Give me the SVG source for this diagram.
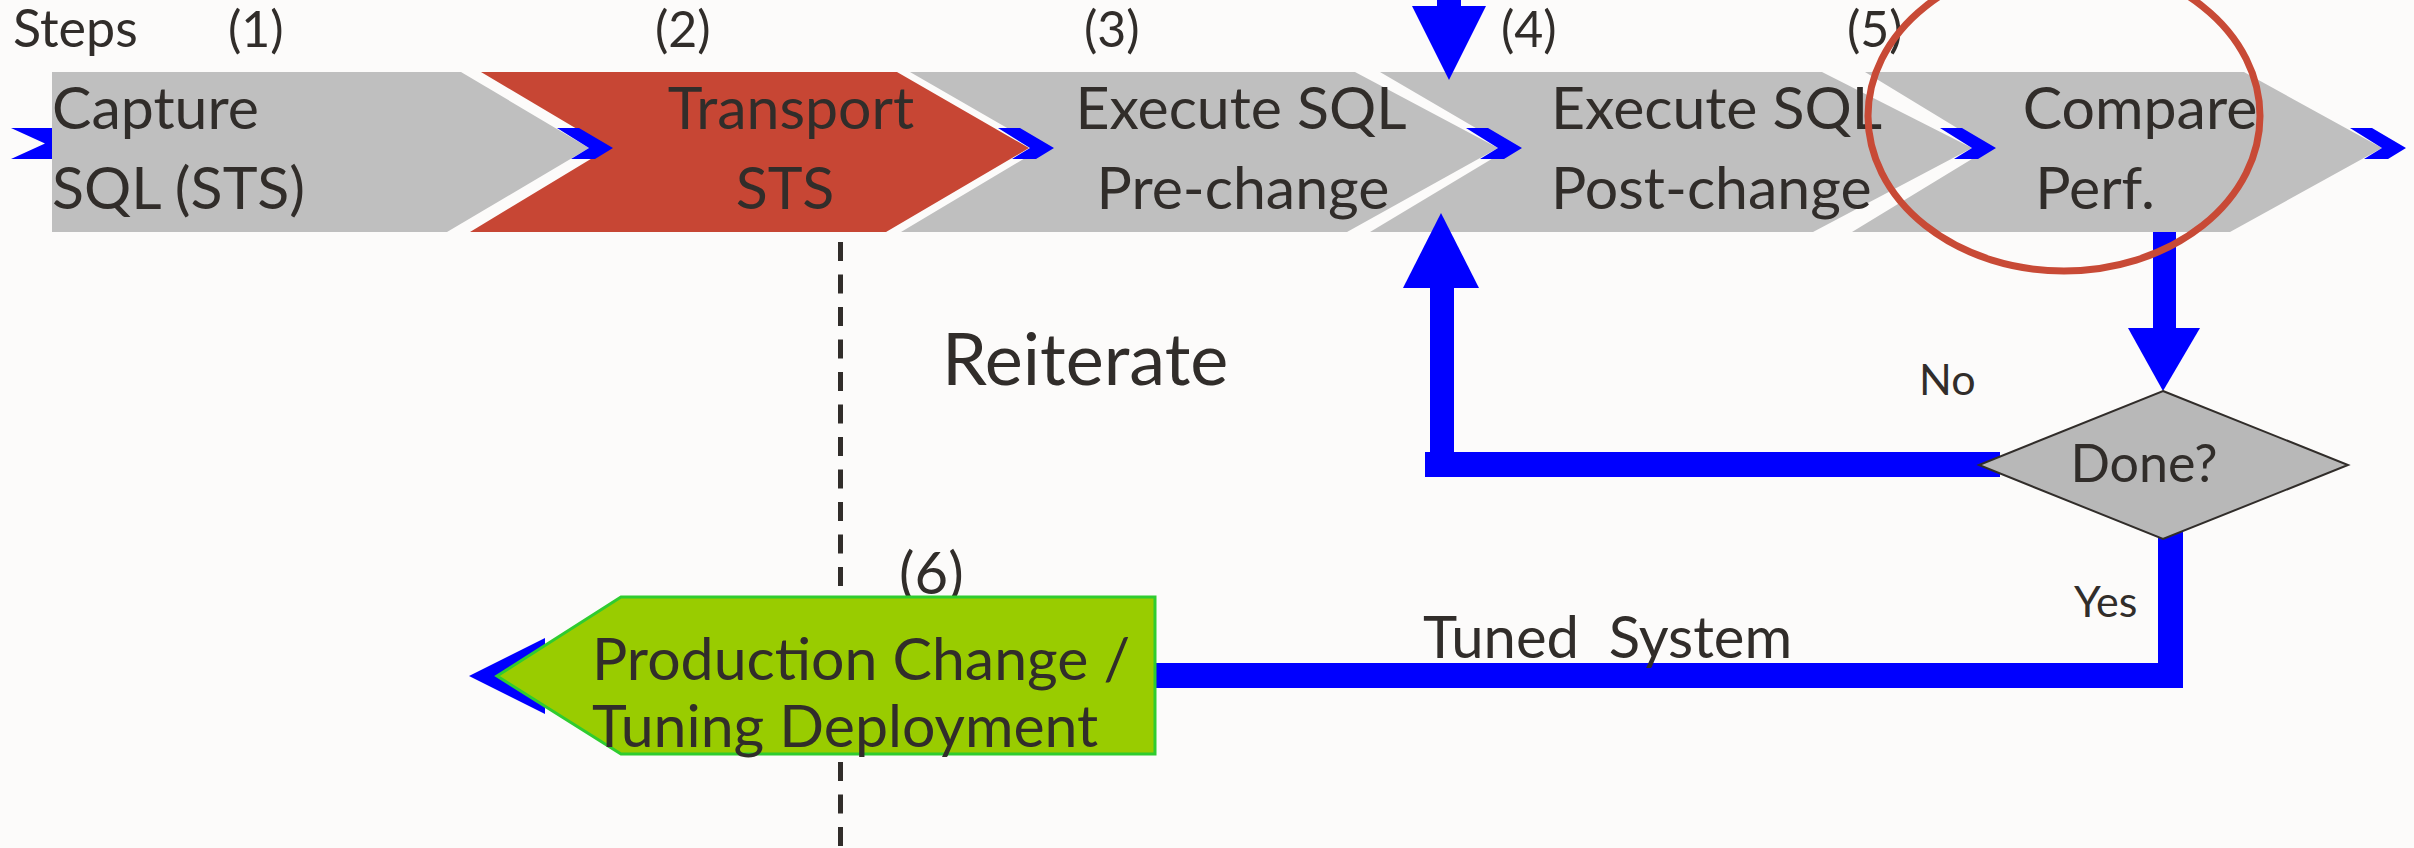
<svg xmlns="http://www.w3.org/2000/svg" width="2414" height="848" viewBox="0 0 2414 848">
  <defs>
    <style>
      .bg { fill: #fcfbfa; }
      .step { fill: #bfbfbf; }
      .step-hot { fill: #c74634; }
      .deploy { fill: #99cc00; stroke: #2fcc2f; stroke-width: 3; }
      .decision { fill: #b8b8b8; stroke: #312d2a; stroke-width: 2; }
      .flow { fill: #0000ff; }
      .divider { stroke: #312d2a; stroke-width: 5; stroke-dasharray: 19 13.5; fill: none; }
      .focus { fill: none; stroke: #c84a36; stroke-width: 7; }
      text { font-family: Lato, "Open Sans", "Liberation Sans", sans-serif; fill: #312d2a; }
      .lbl { font-size: 59px; }
      .num { font-size: 50px; }
      .small { font-size: 43px; }
      .mid { text-anchor: middle; }
    </style>
  </defs>

  <rect class="bg" x="0" y="0" width="2414" height="848"/>

  <!-- header labels -->
  <g id="step-numbers">
    <text class="num" x="13" y="47" style="font-size:52px">Steps</text>
    <text class="num" x="228" y="47">(1)</text>
    <text class="num" x="655" y="47">(2)</text>
    <text class="num" x="1084" y="47">(3)</text>
    <text class="num" x="1501" y="47">(4)</text>
    <text class="num" x="1847" y="47">(5)</text>
    <text class="num" x="899" y="594" style="font-size:58px">(6)</text>
  </g>

  <!-- process chevrons -->
  <g id="capture">
    <polygon class="step" points="52,72 461,72 589,148 447,232 52,232"/>
    <text class="lbl" x="52" y="129">Capture</text>
    <text class="lbl" x="52" y="209">SQL (STS)</text>
  </g>
  <g id="transport">
    <polygon class="step-hot" points="481,72 897,72 1029,148 886,232 470,232 609,148"/>
    <text class="lbl mid" x="791" y="129">Transport</text>
    <text class="lbl mid" x="785" y="209">STS</text>
  </g>
  <g id="execute-pre">
    <polygon class="step" points="910,72 1355,72 1498,148 1347,232 901,232 1042,148"/>
    <text class="lbl mid" x="1241" y="129">Execute SQL</text>
    <text class="lbl mid" x="1243" y="209">Pre-change</text>
  </g>
  <g id="execute-post">
    <polygon class="step" points="1380,72 1822,72 1972,148 1813,232 1370,232 1510,148"/>
    <text class="lbl" x="1551" y="129">Execute SQL</text>
    <text class="lbl" x="1551" y="209">Post-change</text>
  </g>
  <g id="compare">
    <polygon class="step" points="1865,72 2244,72 2382,148 2230,232 1852,232 1990,148"/>
    <text class="lbl mid" x="2140" y="129">Compare</text>
    <text class="lbl mid" x="2095" y="209">Perf.</text>
  </g>

  <!-- phase divider -->
  <line class="divider" x1="840.5" y1="242" x2="840.5" y2="848"/>

  <!-- connectors -->
  <g id="connectors">
    <!-- flow entering step 1 -->
    <polygon class="flow" points="11,128 52,128 52,159 11,159 45,143.5"/>
    <!-- arrowheads between steps -->
    <polygon class="flow" points="557,128 579,128 613,148 595,159 571,159 589,148"/>
    <polygon class="flow" points="998,128 1020,128 1054,148 1036,159 1012,159 1030,148"/>
    <polygon class="flow" points="1466,128 1488,128 1522,148 1504,159 1480,159 1498,148"/>
    <polygon class="flow" points="1940,128 1962,128 1996,148 1978,159 1954,159 1972,148"/>
    <polygon class="flow" points="2350,128 2372,128 2406,148 2388,159 2364,159 2382,148"/>
    <!-- re-entry into step 4 from above -->
    <rect class="flow" x="1437" y="0" width="24" height="7"/>
    <polygon class="flow" points="1412,6 1486,6 1449,80"/>
    <!-- compare to decision -->
    <rect class="flow" x="2153" y="232" width="23" height="97"/>
    <polygon class="flow" points="2128,328 2200,328 2163,391"/>
    <!-- "No" loop back to step 4 -->
    <rect class="flow" x="1425" y="452" width="575" height="25"/>
    <rect class="flow" x="1430" y="287" width="24" height="190"/>
    <polygon class="flow" points="1403,288 1479,288 1441,213"/>
    <!-- "Yes" path to deployment -->
    <rect class="flow" x="2158" y="530" width="25" height="158"/>
    <rect class="flow" x="545" y="663" width="1638" height="25"/>
    <polygon class="flow" points="469,676 545,638 545,714"/>
  </g>

  <g id="done">
    <polygon class="decision" points="2163,391 2348,465 2163,539 1979,465"/>
    <text class="mid" x="2144" y="482" style="font-size:52px">Done?</text>
  </g>

  <g id="deployment">
    <polygon class="deploy" points="497,676 621,597 1155,597 1155,754 621,754"/>
    <text class="lbl" x="592" y="680">Production Change /</text>
    <text class="lbl" x="592" y="747">Tuning Deployment</text>
  </g>

  <!-- connector labels -->
  <g id="labels">
    <text x="942" y="385" style="font-size:72px">Reiterate</text>
    <text class="small" x="1919" y="395">No</text>
    <text class="small" x="2074" y="617">Yes</text>
    <text x="1423" y="658" style="font-size:58px;white-space:pre">Tuned  System</text>
  </g>

  <!-- highlight around step 5 -->
  <ellipse class="focus" cx="2064" cy="116" rx="196" ry="155"/>
</svg>
